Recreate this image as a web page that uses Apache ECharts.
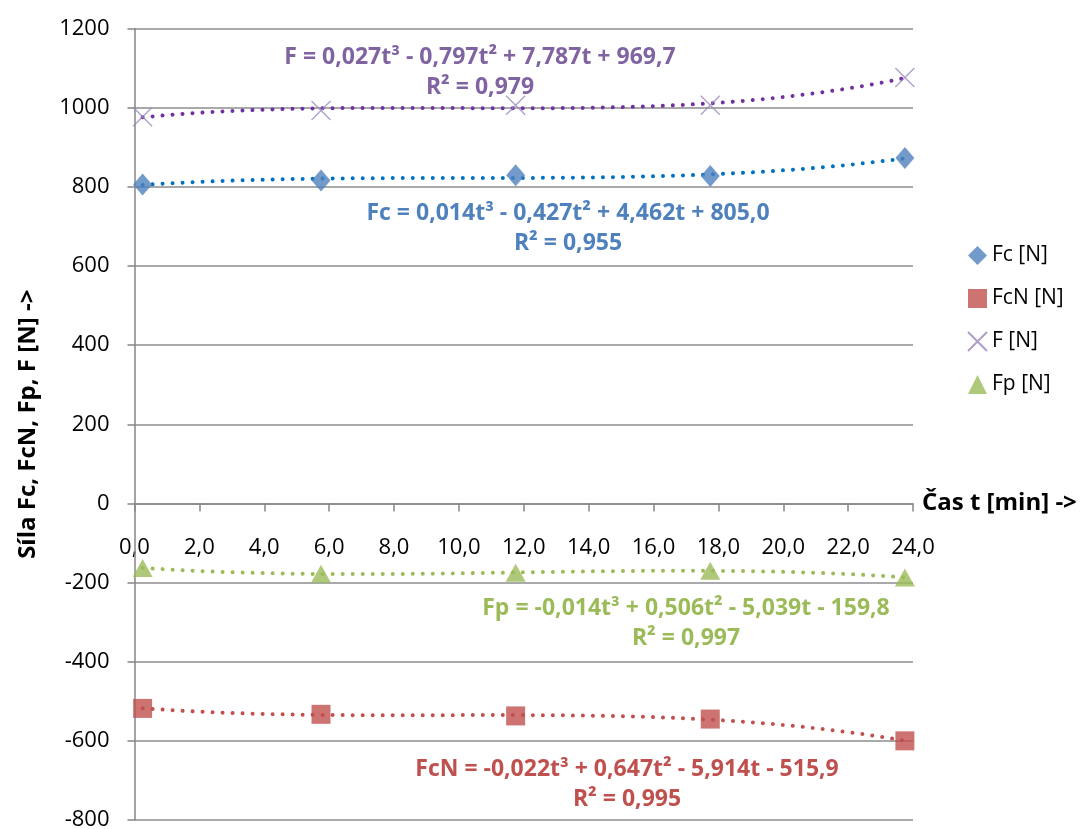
<!DOCTYPE html>
<html>
<head>
<meta charset="utf-8">
<script src="https://cdn.jsdelivr.net/npm/echarts@6/dist/echarts.min.js"></script>
<style>
html,body{margin:0;padding:0;background:#fff;}
#chart{width:1088px;height:829px;}
</style>
</head>
<body>
<div id="chart"></div>
<script>
// ---- data ----
var timeMin = [0.25, 5.75, 11.75, 17.75, 23.75];
var fcValues = [806, 816, 829, 827, 873];
var fcnValues = [-518, -533, -537, -545, -600];
var fValues = [977, 993, 1006, 1006, 1076];
var fpValues = [-163, -178, -175, -170, -187];
var seriesNames = ['Fc [N]', 'FcN [N]', 'F [N]', 'Fp [N]'];
var yTicks = [-800, -600, -400, -200, 0, 200, 400, 600, 800, 1000, 1200];
var xTicks = [0, 2, 4, 6, 8, 10, 12, 14, 16, 18, 20, 22, 24];
var eqTexts = {
  F: ['F = 0,027t³ - 0,797t² + 7,787t + 969,7', 'R² = 0,979'],
  Fc: ['Fc = 0,014t³ - 0,427t² + 4,462t + 805,0', 'R² = 0,955'],
  Fp: ['Fp = -0,014t³ + 0,506t² - 5,039t - 159,8', 'R² = 0,997'],
  FcN: ['FcN = -0,022t³ + 0,647t² - 5,914t - 515,9', 'R² = 0,995']
};

// ---- cubic least-squares trendline (like Excel's polynomial trendline) ----
function polyfit(xs, ys, deg) {
  var n = deg + 1, A = [], b = [];
  for (var i = 0; i < n; i++) {
    A.push([]); b.push(0);
    for (var j = 0; j < n; j++) {
      var s = 0;
      for (var k = 0; k < xs.length; k++) s += Math.pow(xs[k], i + j);
      A[i].push(s);
    }
    for (var k2 = 0; k2 < xs.length; k2++) b[i] += ys[k2] * Math.pow(xs[k2], i);
  }
  for (var c = 0; c < n; c++) {
    var p = c;
    for (var r = c + 1; r < n; r++) if (Math.abs(A[r][c]) > Math.abs(A[p][c])) p = r;
    var tmp = A[c]; A[c] = A[p]; A[p] = tmp; var tb = b[c]; b[c] = b[p]; b[p] = tb;
    for (var r2 = c + 1; r2 < n; r2++) {
      var f = A[r2][c] / A[c][c];
      for (var cc = c; cc < n; cc++) A[r2][cc] -= f * A[c][cc];
      b[r2] -= f * b[c];
    }
  }
  var coef = new Array(n);
  for (var r3 = n - 1; r3 >= 0; r3--) {
    var s2 = b[r3];
    for (var cc2 = r3 + 1; cc2 < n; cc2++) s2 -= A[r3][cc2] * coef[cc2];
    coef[r3] = s2 / A[r3][r3];
  }
  return coef;
}
function trend(xs, ys) {
  var coef = polyfit(xs, ys, 3), pts = [];
  var x0 = xs[0], x1 = xs[xs.length - 1], steps = 120;
  for (var i = 0; i <= steps; i++) {
    var x = x0 + (x1 - x0) * i / steps, y = 0;
    for (var k = 0; k < coef.length; k++) y += coef[k] * Math.pow(x, k);
    pts.push([x, y]);
  }
  return pts;
}
function pairs(xs, ys) { return xs.map(function (x, i) { return [x, ys[i]]; }); }
function fmtX(v) { return v.toFixed(1).replace('.', ','); }

var FONT = 'Open Sans';
var colFc = '#4F81BD', colFcN = '#C0504D', colF = '#9A86BD', colFp = '#9BBB59';
var trFc = '#0070C0', trFcN = '#C0504D', trF = '#7030A0', trFp = '#9BBB59';
var crossPath = 'path://M0,0L10,10M10,0L0,10';

function trendSeries(name, data, color) {
  return {
    name: name, type: 'line', data: data, showSymbol: false, symbol: 'none',
    silent: true, z: 3,
    lineStyle: { color: color, width: 4, type: [0.01, 10], cap: 'round' }
  };
}
function eqGraphic(key, lines, cx, cy, color) {
  return lines.map(function (t, i) {
    return {
      id: 'eq-' + key + '-' + i,
      type: 'text', x: cx, y: cy + i * 30,
      style: { text: t, fill: color, font: 'bold 23px "' + FONT + '"', textAlign: 'center', textVerticalAlign: 'middle' }
    };
  });
}

var chart = echarts.init(document.getElementById('chart'), null, { renderer: 'canvas' });
var eqGraphics = [].concat(
  eqGraphic('F', eqTexts.F, 480, 57, '#8064A2'),
  eqGraphic('Fc', eqTexts.Fc, 568, 213, '#4F81BD'),
  eqGraphic('Fp', eqTexts.Fp, 686, 608, '#9BBB59'),
  eqGraphic('FcN', eqTexts.FcN, 627, 769, '#C0504D')
);
var option = {
  animation: false,
  backgroundColor: '#ffffff',
  grid: { left: 134.5, right: 175, top: 28.5, bottom: 9, containLabel: false, outerBoundsMode: 'none' },
  legend: {
    data: seriesNames, orient: 'vertical', left: 962, top: 240, itemGap: 22,
    itemWidth: 19, itemHeight: 19,
    textStyle: { fontFamily: FONT, fontSize: 21, color: '#000' }
  },
  xAxis: {
    type: 'value', min: xTicks[0], max: xTicks[xTicks.length - 1], interval: 2,
    name: 'Čas t [min] ->', nameLocation: 'end', nameGap: 9,
    nameTextStyle: { fontFamily: FONT, fontSize: 24, fontWeight: 'bold', color: '#000', padding: [14, 0, 0, 0] },
    axisLine: { onZero: true, lineStyle: { color: '#868686', width: 1.5 } },
    axisTick: { show: true, length: 8, inside: false, lineStyle: { color: '#868686', width: 1.5 } },
    axisLabel: { show: false },
    splitLine: { show: false }
  },
  yAxis: {
    type: 'value', min: yTicks[0], max: yTicks[yTicks.length - 1], interval: 200,
    name: 'Síla Fc, FcN, Fp, F [N] ->', nameLocation: 'middle', nameRotate: 90, nameGap: 94,
    nameTextStyle: { fontFamily: FONT, fontSize: 24, fontWeight: 'bold', color: '#000' },
    axisLine: { show: true, lineStyle: { color: '#868686', width: 1.5 } },
    axisTick: { show: true, length: 7, lineStyle: { color: '#868686', width: 1.5 } },
    axisLabel: { margin: 25, fontFamily: FONT, fontSize: 22, color: '#000',
      formatter: function (v) { return String(v); } },
    splitLine: { show: true, lineStyle: { color: '#8c8c8c', width: 1.5 } }
  },
  series: [
    { name: seriesNames[0], type: 'scatter', data: pairs(timeMin, fcValues), symbol: 'diamond', symbolSize: [19, 22], itemStyle: { color: colFc }, z: 4 },
    { name: seriesNames[1], type: 'scatter', data: pairs(timeMin, fcnValues), symbol: 'rect', symbolSize: 19, itemStyle: { color: colFcN }, z: 4 },
    { name: seriesNames[2], type: 'scatter', data: pairs(timeMin, fValues), symbol: crossPath, symbolSize: 19, itemStyle: { color: 'rgba(0,0,0,0)', borderColor: colF, borderWidth: 1.3 }, z: 4 },
    { name: seriesNames[3], type: 'scatter', data: pairs(timeMin, fpValues), symbol: 'triangle', symbolSize: [20, 18], itemStyle: { color: colFp }, z: 4 },
    trendSeries('trend Fc', trend(timeMin, fcValues), trFc),
    trendSeries('trend FcN', trend(timeMin, fcnValues), trFcN),
    trendSeries('trend F', trend(timeMin, fValues), trF),
    trendSeries('trend Fp', trend(timeMin, fpValues), trFp)
  ],
  graphic: eqGraphics
};
chart.setOption(option);

// x tick labels sit next to the axis line crossing at y = 0 (placed via the chart's own scales)
var xLabelGraphics = xTicks.map(function (v, i) {
  var p = chart.convertToPixel({ xAxisIndex: 0, yAxisIndex: 0 }, [v, 0]);
  return {
    id: 'xlab-' + i, type: 'text', x: p[0], y: p[1] + 44, silent: true,
    style: { text: fmtX(v), fill: '#000', font: '22px "' + FONT + '"', textAlign: 'center', textVerticalAlign: 'middle' }
  };
});
chart.setOption({ graphic: eqGraphics.concat(xLabelGraphics) });
</script>
</body>
</html>
